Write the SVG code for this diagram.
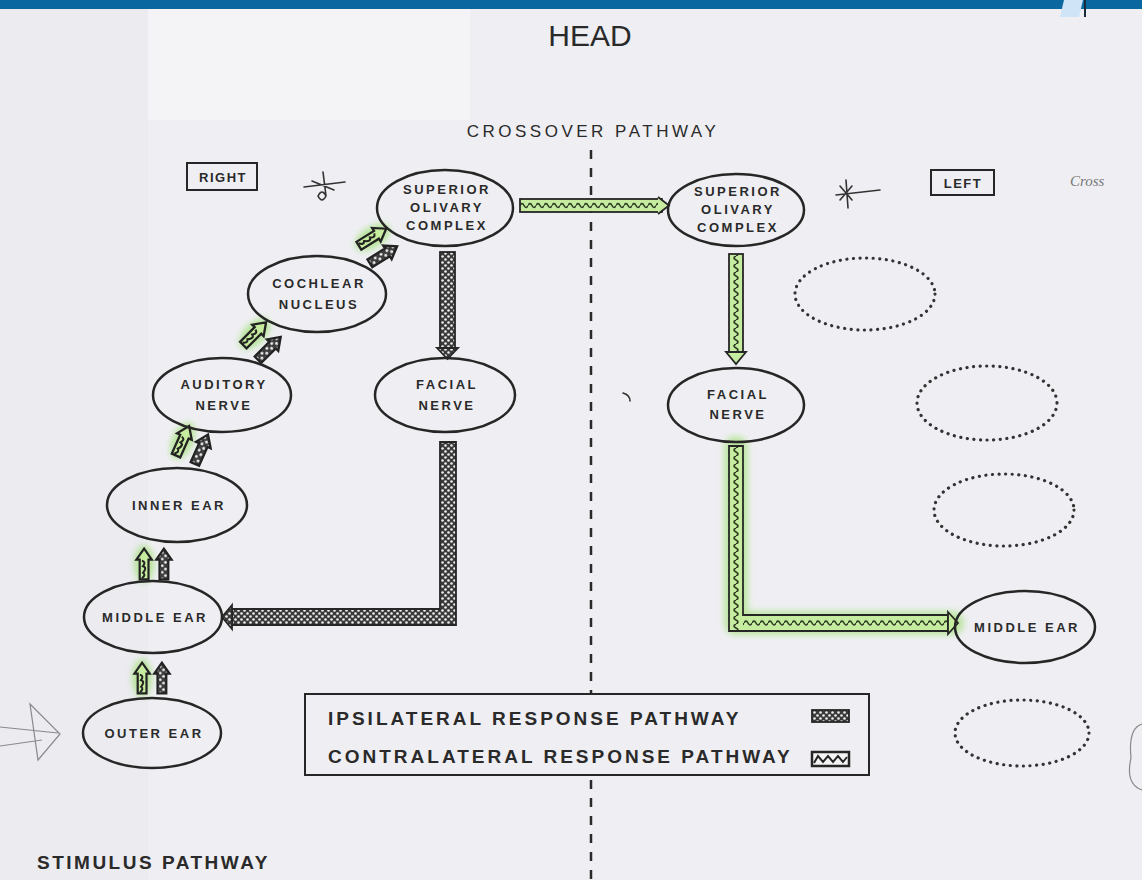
<svg xmlns="http://www.w3.org/2000/svg" width="1142" height="880" viewBox="0 0 1142 880">
<style>
.bg{fill:#efeff3}
.node{fill:none;stroke:#262626;stroke-width:2.5}
.dot{fill:none;stroke:#333;stroke-width:3.2;stroke-dasharray:0.1 6.5;stroke-linecap:round}
.nt{font-family:"Liberation Sans",Arial,sans-serif;font-weight:bold;font-size:13px;letter-spacing:2.5px;fill:#2a2a2a;text-anchor:middle}
.lt{font-family:"Liberation Sans",Arial,sans-serif;font-weight:bold;font-size:19px;letter-spacing:3px;fill:#2a2a2a}
.bar{stroke:#262626;stroke-width:1.8}
.glow{fill:none;stroke:#93dc5e;stroke-opacity:0.55;stroke-linecap:round;stroke-linejoin:round}
.pencil{fill:none;stroke:#8a8a8a;stroke-width:1.2}
.ink{fill:none;stroke:#333;stroke-width:1.6;stroke-linecap:round}
</style>
<defs>
<filter id="blur" x="-30%" y="-30%" width="160%" height="160%"><feGaussianBlur stdDeviation="3"/></filter>
<pattern id="chk" width="6" height="6" patternUnits="userSpaceOnUse"><rect width="6" height="6" fill="#3a3a3a"/><circle cx="1.5" cy="1.5" r="1.3" fill="#eeeeee"/><circle cx="4.5" cy="4.5" r="1.3" fill="#eeeeee"/></pattern>
<pattern id="wavH1" width="8" height="13" patternUnits="userSpaceOnUse" patternTransform="translate(0,199)"><rect width="8" height="13" fill="#c6ec9f"/><path d="M0 6.5 Q2 2.5 4 6.5 T8 6.5" stroke="#2c3a22" stroke-width="1.6" fill="none"/></pattern>
<pattern id="wavH2" width="8" height="16" patternUnits="userSpaceOnUse" patternTransform="translate(0,615)"><rect width="8" height="16" fill="#c6ec9f"/><path d="M0 8 Q2 4 4 8 T8 8" stroke="#2c3a22" stroke-width="1.6" fill="none"/></pattern>
<pattern id="wavV" width="14" height="8" patternUnits="userSpaceOnUse" patternTransform="translate(729,0)"><rect width="14" height="8" fill="#c6ec9f"/><path d="M7 0 Q3 2 7 4 T7 8" stroke="#2c3a22" stroke-width="1.6" fill="none"/></pattern>
<g id="stim">
<ellipse cx="-9" cy="0" rx="9" ry="17" fill="#8fdc5a" opacity="0.6" filter="url(#blur)"/>
<path d="M-13 14 V-4 H-16 L-9 -14 L-2 -4 H-5 V14 Z" fill="#c6ec9f" stroke="#222" stroke-width="2"/>
<path d="M-11 -3 q4 1 1 5 q4 1 0 6 q3 2 -1 5" stroke="#222" stroke-width="1.8" fill="none"/>
<path d="M5 14 V-4 H2 L9 -14 L16 -4 H13 V14 Z" fill="url(#chk)" stroke="#222" stroke-width="2"/>
</g>
</defs>

<g id="background">
<rect class="bg" x="0" y="0" width="1142" height="880"/>
<rect x="0" y="0" width="148" height="880" fill="#ebebf0"/>
<rect x="148" y="0" width="322" height="120" fill="#f4f4f7"/>
<rect x="0" y="0" width="1142" height="9" fill="#0a67a0"/>
<polygon points="1064,0 1083,0 1079,17 1060,17" fill="#cfe5f7"/>
<line x1="1085" y1="0" x2="1085" y2="17" stroke="#1b2a3a" stroke-width="2"/>
</g>

<g id="titles">
<text x="590" y="46" font-family="Liberation Sans, Arial, sans-serif" font-size="30" fill="#2a2a2a" text-anchor="middle">HEAD</text>
<text x="593" y="137" font-family="Liberation Sans, Arial, sans-serif" font-size="17" letter-spacing="3.5" fill="#2a2a2a" text-anchor="middle">CROSSOVER PATHWAY</text>
<text x="37" y="869" class="lt" style="letter-spacing:2.5px">STIMULUS PATHWAY</text>
</g>

<g id="midline">
<line x1="591" y1="150" x2="591" y2="880" stroke="#2a2a2a" stroke-width="2.5" stroke-dasharray="9 9"/>
</g>

<g id="side-labels">
<g id="label-right"><rect x="187" y="163" width="70" height="27" fill="none" stroke="#262626" stroke-width="2"/><text x="223" y="182" class="nt" style="letter-spacing:1.5px">RIGHT</text></g>
<g id="label-left"><rect x="931" y="170" width="63" height="25" fill="none" stroke="#262626" stroke-width="2"/><text x="963" y="188" class="nt" style="letter-spacing:1.5px">LEFT</text></g>
<text x="1070" y="186" font-family="Liberation Serif, serif" font-style="italic" font-size="15" fill="#777">Cross</text>
</g>

<g id="marks">
<path class="ink" d="M304 187 L345 182 M323 172 L326 196 M312 181 L334 190 M318 196 q4 -8 8 0 q-4 8 -8 0"/>
<path class="ink" d="M836 195 L880 190 M846 180 L848 208 M840 186 L852 200 M840 200 L852 186"/>
<path class="ink" d="M623 393 q7 2 7 8" stroke-width="1.2"/>
<path class="pencil" d="M0 727 L58 733 M0 746 L42 740 M30 704 L60 734 L38 760 Z"/>
<path class="pencil" d="M1142 724 Q1128 728 1131 758 Q1125 784 1142 790"/>
</g>

<g id="connectors">
<path class="glow" d="M522 205 L666 205" stroke-width="24" filter="url(#blur)"/>
<path class="glow" d="M736 256 L736 358" stroke-width="22" filter="url(#blur)"/>
<path class="glow" d="M736 448 L736 623 L952 623" stroke-width="24" filter="url(#blur)"/>
<rect class="bar" x="520" y="199" width="142" height="13" fill="url(#wavH1)"/>
<path d="M658 197 L669 205.5 L658 214" fill="#c6ec9f" stroke="#262626" stroke-width="1.8"/>
<rect class="bar" x="440" y="252" width="15" height="96" fill="url(#chk)"/>
<polygon class="bar" points="437,348 447.5,359 458,348" fill="url(#chk)"/>
<path class="bar" d="M456 442 L456 625 L232 625 L232 609 L440 609 L440 442 Z" fill="url(#chk)"/>
<polygon class="bar" points="232,605 222,617 232,629" fill="url(#chk)"/>
<rect class="bar" x="729" y="254" width="14" height="98" fill="url(#wavV)"/>
<polygon class="bar" points="726,352 736,364 746,352" fill="#c6ec9f"/>
<rect x="729" y="446" width="14" height="185" fill="url(#wavV)"/>
<rect x="743" y="615" width="205" height="16" fill="url(#wavH2)"/>
<path class="bar" d="M729 446 L729 631 L948 631 L948 615 L743 615 L743 446 Z" fill="none"/>
<polygon class="bar" points="948,612 958,623 948,634" fill="#c6ec9f"/>
<use href="#stim" transform="translate(152,678) scale(1.1)"/>
<use href="#stim" transform="translate(154,564) scale(1.1)"/>
<use href="#stim" transform="translate(192,445) rotate(24) scale(1.15)"/>
<use href="#stim" transform="translate(262,341) rotate(45) scale(1.15)"/>
<use href="#stim" transform="translate(378,246) rotate(58) scale(1.15)"/>
</g>

<g id="node-outer-ear"><ellipse class="node" cx="152" cy="733" rx="69" ry="35"/><text class="nt" x="154" y="738">OUTER EAR</text></g>
<g id="node-middle-ear-r"><ellipse class="node" cx="153" cy="617" rx="69" ry="36"/><text class="nt" x="155" y="622">MIDDLE EAR</text></g>
<g id="node-inner-ear"><ellipse class="node" cx="177" cy="505" rx="70" ry="37"/><text class="nt" x="179" y="510">INNER EAR</text></g>
<g id="node-auditory-nerve"><ellipse class="node" cx="222" cy="395" rx="69" ry="37"/><text class="nt" x="224" y="389">AUDITORY</text><text class="nt" x="224" y="410">NERVE</text></g>
<g id="node-cochlear-nucleus"><ellipse class="node" cx="317" cy="294" rx="69" ry="38"/><text class="nt" x="319" y="288">COCHLEAR</text><text class="nt" x="319" y="309">NUCLEUS</text></g>
<g id="node-soc-r"><ellipse class="node" cx="445" cy="208" rx="68" ry="38"/><text class="nt" x="447" y="194">SUPERIOR</text><text class="nt" x="447" y="212">OLIVARY</text><text class="nt" x="447" y="230">COMPLEX</text></g>
<g id="node-facial-nerve-r"><ellipse class="node" cx="445" cy="395" rx="70" ry="37"/><text class="nt" x="447" y="389">FACIAL</text><text class="nt" x="447" y="410">NERVE</text></g>

<g id="node-soc-l"><ellipse class="node" cx="736" cy="210" rx="68" ry="36"/><text class="nt" x="738" y="196">SUPERIOR</text><text class="nt" x="738" y="214">OLIVARY</text><text class="nt" x="738" y="232">COMPLEX</text></g>
<g id="node-facial-nerve-l"><ellipse class="node" cx="736" cy="405" rx="68" ry="37"/><text class="nt" x="738" y="399">FACIAL</text><text class="nt" x="738" y="419">NERVE</text></g>
<g id="node-middle-ear-l"><ellipse class="node" cx="1025" cy="627" rx="70" ry="36"/><text class="nt" x="1027" y="632">MIDDLE EAR</text></g>
<g id="node-empty-1"><ellipse class="dot" cx="865" cy="294" rx="70" ry="36"/></g>
<g id="node-empty-2"><ellipse class="dot" cx="987" cy="403" rx="70" ry="37"/></g>
<g id="node-empty-3"><ellipse class="dot" cx="1004" cy="510" rx="70" ry="36"/></g>
<g id="node-empty-4"><ellipse class="dot" cx="1022" cy="733" rx="67" ry="33"/></g>

<g id="legend">
<rect x="305" y="694" width="564" height="81" fill="#efeff3" stroke="#262626" stroke-width="2"/>
<text class="lt" x="328" y="725">IPSILATERAL RESPONSE PATHWAY</text>
<text class="lt" x="328" y="763">CONTRALATERAL RESPONSE PATHWAY</text>
<rect class="bar" x="812" y="710" width="37" height="12" fill="url(#chk)"/>
<rect x="812" y="752" width="37" height="14" fill="#f4f4f4" stroke="#262626" stroke-width="2.5"/>
<path d="M814 763 L818 756 L823 762 L828 756 L833 762 L838 756 L843 762 L847 757" fill="none" stroke="#262626" stroke-width="2"/>
</g>
</svg>
